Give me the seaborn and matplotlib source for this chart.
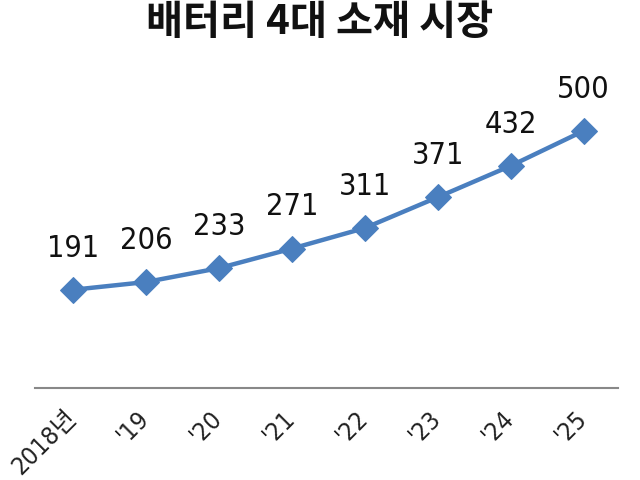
import matplotlib
matplotlib.use("Agg")
import matplotlib.pyplot as plt
import seaborn as sns
import pandas as pd

years = ["2018년", "'19", "'20", "'21", "'22", "'23", "'24", "'25"]
values = [191, 206, 233, 271, 311, 371, 432, 500]
title = "배터리 4대 소재 시장"

sns.set_style("white")
plt.rcParams['font.family'] = ['DejaVu Sans', 'Noto Sans CJK KR']

df = pd.DataFrame({"x": range(len(years)), "year": years, "value": values})

fig = plt.figure(figsize=(6.4, 4.8), dpi=100)
ax = fig.add_axes([35/640, 1 - 388/480, (618 - 35)/640, (388 - 101)/480])

color = "#4a7fbf"
sns.lineplot(data=df, x="x", y="value", ax=ax, color=color, linewidth=3.2,
             marker="D", markersize=13, markeredgecolor=color, markerfacecolor=color)

for xi, v in zip(df["x"], df["value"]):
    ax.annotate(str(v), (xi, v), xytext=(0, 30), textcoords="offset points",
                ha="center", va="center", fontsize=22, color="#111111",
                family=['DejaVu Sans'], fontstretch='condensed')

ax.set_xlim(-0.52, 7.47)
ax.set_ylim(0, 558)
ax.set_xticks(list(df["x"]))
ax.set_xticklabels(years, rotation=45, ha="right", va="center", rotation_mode="anchor",
                   fontsize=18, color="#222222",
                   family=['DejaVu Sans', 'Noto Sans CJK KR'], fontstretch='condensed')
ax.tick_params(axis="x", length=0, pad=19)
ax.set_yticks([])
ax.set_xlabel("")
ax.set_ylabel("")
for s in ["top", "right", "left"]:
    ax.spines[s].set_visible(False)
ax.spines["bottom"].set_color("#888888")
ax.spines["bottom"].set_linewidth(1.5)

fig.text(0.5, 1 - 22/480, title, ha="center", va="center", fontsize=29,
         fontweight="bold", family=['Noto Sans CJK KR', 'DejaVu Sans'], color="#111111")

fig.savefig("out.png", dpi=100)
